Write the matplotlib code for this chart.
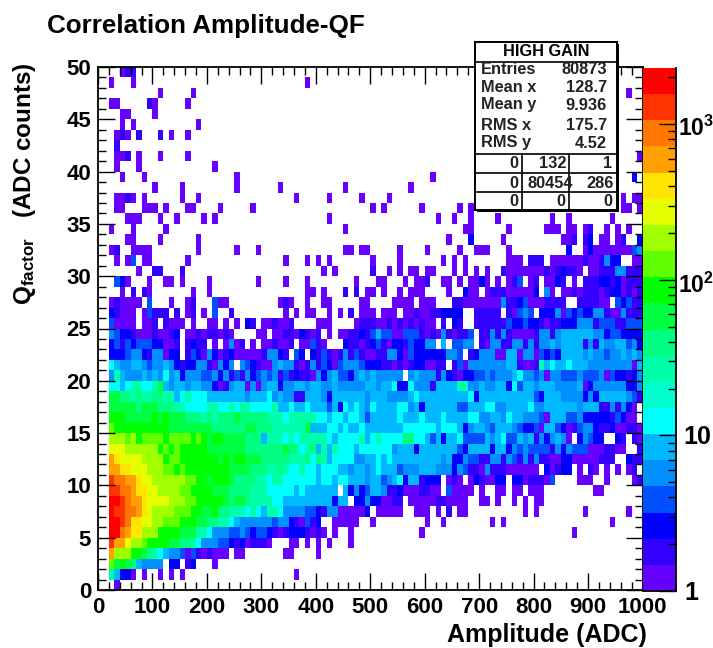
import numpy as np
import matplotlib
matplotlib.use("Agg")
import matplotlib.pyplot as plt
from matplotlib.colors import ListedColormap, BoundaryNorm
from matplotlib.patches import Rectangle
from matplotlib.ticker import MultipleLocator, LogLocator, NullFormatter

plt.rcParams['font.family'] = ['Liberation Sans', 'DejaVu Sans']
plt.rcParams['font.weight'] = 'bold'
plt.rcParams['mathtext.fontset'] = 'custom'
plt.rcParams['mathtext.rm'] = 'Liberation Sans:bold'
plt.rcParams['mathtext.bf'] = 'Liberation Sans:bold'

# Histogram cells, top row (Q 49-50) first, 10 cells per group.
# '.' is an empty cell, other characters are the colour read for that cell
qf_rows = [
    "....011...",
    "..0...0... .......... .......... ........0.",
    ".......... .0.....0.. .......... .......... .......... .......... .......... .......... .......... .......0..",
    "..00.....1 0.....0...",
    "....00.... 0.........",
    "....0.0... ........0.",
    "...010.1.. .1.0..0...",
    "...1...... .......... .......... .......... .......... .......... .........0",
    "...001.0.. .0....0... .......... .......... .......... .......... .......... .......... .......... .........0",
    "...0...0.. .......... .0........",
    "....0...0. .......... .....0.... .......... .......... .......... .0........ .......... .......... ........2.",
    ".......... 0....0.... .....0.... ...0...... .....0.... .......0..",
    "...0010.0. .....0..0. .......... ......0... ..0.....0. ...0...... .......... .......... .......... ......0.00",
    "...00...00 0.0...00.. ..0.....0. .......... .......... 0.0......0 ......0.0. .......... .......... ......00.0",
    ".....000.. .0..0....0 .0........ .......... ..0....... .......... ..0..0..0. ...0...... ...0..0... ....0.....",
    "..0...0... ..0....... .......... .......... .....0.... .......... .......00. .....0.... ..000.00.0 1..0.0.0..",
    ".....00... .0......0. .......... .......... .......... .......... ....0...2. ....0..... .....001.1 2.00.01..2",
    "..01..0000 ........0. .....0...0 .......... .....00.00 .....0.... 0.....0..0 00...0.... ......2..0 2000000034",
    "...0.03.00 ......0... .......... ....0...0. 0.0....... 0....0.... ...0.0.0.. .....000.1 11.0000001 001422..00",
    ".......0.. 11...1.... .......... .......... .0.0...... 1..0.0.00. 00...0.0.0 .0..100000 001012110. 0011144111",
    "...320...0 ..00.0.... 0........0 ....0...0. .......0.. .00...0.00 1..00.0.00 20.0.013.0 1.0021.0.1 1122120111",
    "....0.1.10 .......0.. 0......... ........00 .0...1.1.0 0.0..0.000 ....0..200 .011100000 2.40.00101 1101220101",
    "..010000.3 ...0..01.. .300...... ...010..0. .00.....00 ....0000.0 00...11000 0000411230 001111..11 1100.32311",
    "..21000.03 111.1.01.0 .3..1..... ....0.0.00 ..0.0.1.00 0.000.0010 0112222..1 1111.10343 .222403232 2441004111",
    "..30000.00 1.1000.0.. 00.0.0.21. 001001.... 000....011 1001010101 00.1.21..1 1111132232 2101122244 4133311333",
    "..43221000 10012.0010 11010....0 0.00110210 1.0.001121 3533003331 010410113. 1141410000 1441455555 5442332222",
    "..23132333 22001.1211 .0.0401.0. 001001.003 10...21101 2310221322 44.5.3344. 1044114414 1445455551 4154455342",
    "..22234421 44022.1320 4201200000 14421.32.2 1310141310 0114420322 2222443.12 4440055044 0323255554 5443445454",
    "..65445543 4454212244 10424.4321 0045441014 1320344432 2211010122 0011.13044 4444455100 1756556555 4444444405",
    "..47544454 5464524443 3424131423 4341312110 4245332454 544444.454 4414210223 3434445644 3404433343 3340322124",
    "..66567766 7954554554 4201455040 4552445545 5445444445 5455622644 4155557744 5445526355 4555444450 2444444224",
    "..99887877 8877567666 5555555455 5645441155 5425555554 5554444565 5555555562 5555555555 3255544442 4255555431",
    "..99999899 9888776666 7766767766 6675565565 5535265654 6555566452 5555553355 5664455556 4455555545 551141420.",
    "..aaa99999 a9a9998887 8788898888 8777677777 6656656653 5555565556 5556555566 4455465544 4305553342 222213200.",
    "..baaaaaaa aaa9999999 9888888998 8877777795 5566565565 5555556666 6656665245 5435554322 3055320134 4211200110",
    "..cccbcabb bbabbbbaba 9aa9999888 5777676777 7765666675 6766668866 5352556333 3545633545 1424540.24 322..21.10",
    "..eeedddcc cababaaaaa 9999999888 8888988678 5757666566 6666455525 5555553255 5525524343 3331424333 0001100..1",
    "..gfeeeedd ccabbaaaaa aa9a9aa999 8888877786 8756666445 5656555555 5554522433 1144143141 4110022000 00111..211",
    "..ggffeeed ccbbabaaaa aaaa999988 8778766766 5666554554 5655534445 5544424311 0411100000 0.20122.0. 10.0.0.01.",
    "..ihhggfee ddccccbbaa 9aaa988887 7677666666 5665665554 5534562551 222.010.02 10022.2201 1103....00 0..0....01",
    "..iihhgffe eddccbbaaa a999888877 7666665655 5555.52423 5541120001 100.30000. 0..00.00.0 00........ .00.......",
    "..jjihggfe eeecccbbaa aaa9899877 7766555555 555255.224 220011.000 00110000.. 00.0..0.0. 00........",
    "..jiihhgfe ddccbbbaa9 9a88777676 5776444433 2144000002 .00000..00 0.0.1.00.. ........0. 0........0 .......0..",
    "..jjihffee ccbbbaaa99 8877654444 4434421031 2..00000.. 0......... 0..0...... ..0.0..... .......... ....0.....",
    "..jjhgffdc caaaa99977 6444334323 3210122210 10.0..0... .........0 .......... .......... .......0..",
    "..iggedcba aaa9988764 4433212011 10...00.0. 0.0...0...",
    "..gdccaa98 7654430310 1000.00... ....00.... 0.........",
    "..b9a98544 44.22.12.. .0........",
    "..75220.0. .0.0.0.... .......... ......0...",
    "...0......",
]
# which palette band each cell character stands for
cell_chars = "0123456789abcdefghij"
cell_bands = [0, 1, 2, 3, 4, 5, 6, 8, 9, 10, 11, 12, 13, 13, 14, 15, 16, 17, 18, 19]
band_colors = ["#6600ff", "#3300ff", "#0000ff", "#0050ff", "#0090ff", "#00b8ff", "#00ffff",
               "#00ffcc", "#00ffaa", "#00ff80", "#00ff40", "#00ff00", "#60ff00", "#a0ff00",
               "#e6ff00", "#ffe600", "#ffa000", "#ff7700", "#ff3300", "#ff0000"]
z_max = 2300.0

x_edges = np.arange(0, 1001, 10)
y_edges = np.arange(0, 51, 1)
z_edges = np.logspace(0, np.log10(z_max), 21)

stat_names = ["Entries", "Mean x", "Mean y", "RMS x", "RMS y"]
stat_values = ["80873", "128.7", "9.936", "175.7", "4.52"]
stat_ypix = [69, 87, 105, 126, 143]
under_over = [["0", "132", "1"], ["0", "80454", "286"], ["0", "0", "0"]]
under_over_xpix = [[518, 567, 612], [518, 573, 614], [518, 565, 612]]

# decode the rows into counts, centre of the colour band
counts = np.full((50, 100), np.nan)
for j, row in enumerate(qf_rows):
    row = row.replace(" ", "").ljust(100, ".")
    for i, c in enumerate(row[:100]):
        if c != ".":
            band = cell_bands[cell_chars.index(c)]
            counts[49 - j, i] = np.sqrt(z_edges[band] * z_edges[band + 1])

W, H = 713, 648
fig = plt.figure(figsize=(W / 100, H / 100), dpi=100)
def px_axes(x0, y0, x1, y1):
    return fig.add_axes([x0 / W, 1 - y1 / H, (x1 - x0) / W, (y1 - y0) / H])

cmap = ListedColormap(band_colors)
norm = BoundaryNorm(z_edges, 20)

ax = px_axes(98, 67, 642.5, 590)
ax.pcolormesh(x_edges, y_edges, np.ma.masked_invalid(counts), cmap=cmap, norm=norm)
ax.set_xlim(0, 1000)
ax.set_ylim(0, 50)
ax.xaxis.set_major_locator(MultipleLocator(100))
ax.xaxis.set_minor_locator(MultipleLocator(20))
ax.yaxis.set_major_locator(MultipleLocator(5))
ax.yaxis.set_minor_locator(MultipleLocator(1))
ax.tick_params(which='major', direction='in', top=True, right=True, length=12, width=1.0, labelsize=16, pad=5)
ax.tick_params(which='minor', direction='in', top=True, right=True, length=6, width=1.0)
ax.tick_params(axis='x', which='major', pad=5)
for s in ax.spines.values():
    s.set_linewidth(1.3)
ax.set_axisbelow(False)

# palette
pal = px_axes(642.5, 68, 675.5, 591)
pal.pcolormesh([0, 1], z_edges, np.sqrt(z_edges[:-1] * z_edges[1:]).reshape(-1, 1), cmap=cmap, norm=norm)
pal.set_yscale('log')
pal.set_ylim(1, z_max)
pal.set_xlim(0, 1)
pal.set_xticks([])
pal.yaxis.tick_right()
pal.yaxis.set_major_locator(LogLocator(base=10))
pal.yaxis.set_minor_locator(LogLocator(base=10, subs=np.arange(2, 10)))
pal.yaxis.set_major_formatter(NullFormatter())
pal.yaxis.set_minor_formatter(NullFormatter())
pal.tick_params(which='major', direction='in', length=12, width=1.0)
pal.tick_params(which='minor', direction='in', length=6, width=1.0)
pal.spines['top'].set_visible(False)
pal.spines['left'].set_visible(False)
pal.spines['right'].set_linewidth(1.3)
pal.spines['bottom'].set_linewidth(1.3)

# everything else placed in picture pixels
ov = fig.add_axes([0, 0, 1, 1], zorder=5)
ov.set_xlim(0, W)
ov.set_ylim(H, 0)
ov.axis('off')
ov.patch.set_alpha(0)

ov.text(47, 26, "Correlation Amplitude-QF", fontsize=18.7, ha='left', va='center')
ov.text(647, 635, "Amplitude (ADC)", fontsize=18, ha='right', va='center')
ov.text(25, 305, r"$\mathrm{Q_{factor}}$   (ADC counts)", fontsize=17.5, rotation=90, ha='center', va='bottom')

ov.text(684, 593, "1", fontsize=18, ha='left', va='center')
ov.text(683, 437, "10", fontsize=18, ha='left', va='center')
ov.text(678, 285, r"10$^{2}$", fontsize=16.5, ha='left', va='center')
ov.text(678, 128, r"10$^{3}$", fontsize=16.5, ha='left', va='center')

# stats box with its shadow
ov.add_patch(Rectangle((477, 44), 142, 168, fc='black', ec='none'))
ov.add_patch(Rectangle((475, 42), 142, 168, fc='white', ec='black', lw=1.4))
for y in [62, 154, 173, 192]:
    ov.plot([475, 617], [y, y], color='black', lw=1.2)
for x in [522, 569]:
    ov.plot([x, x], [154, 210], color='black', lw=1.2)
ov.text(546, 51, "HIGH GAIN", fontsize=11.8, ha='center', va='center')
for name, val, y in zip(stat_names, stat_values, stat_ypix):
    ov.text(481, y, name, fontsize=11.8, ha='left', va='center', color='#222222')
    ov.text(607, y, val, fontsize=11.8, ha='right', va='center', color='#222222')
for row, xs, y in zip(under_over, under_over_xpix, [164, 183, 201]):
    for val, x in zip(row, xs):
        ov.text(x, y, val, fontsize=11.8, ha='right', va='center', color='#222222')

fig.savefig("out.png", dpi=100)
